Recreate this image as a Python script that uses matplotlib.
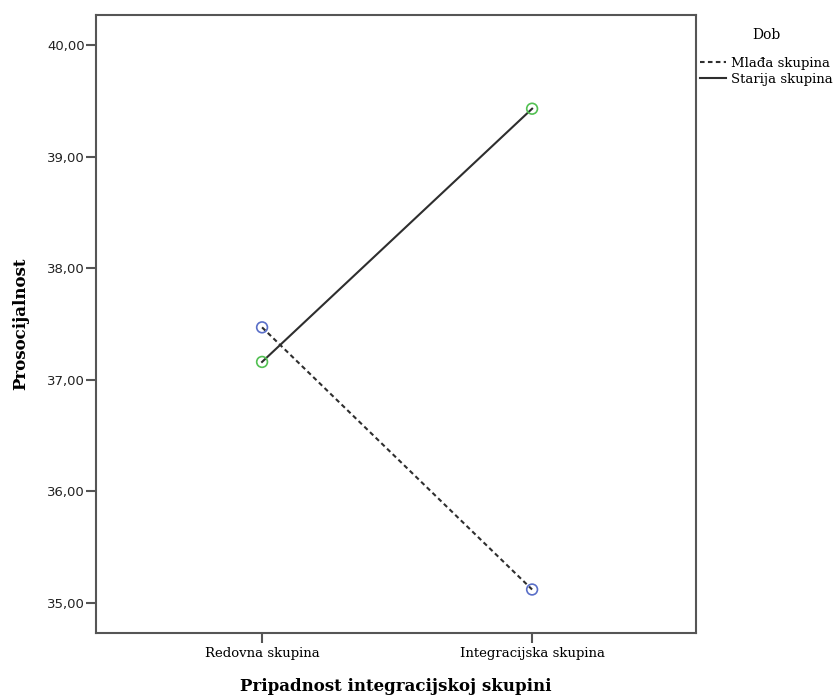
import numpy as np
import matplotlib
matplotlib.use("Agg")
import matplotlib.pyplot as plt
from matplotlib.lines import Line2D

# data
groups = ["Redovna skupina", "Integracijska skupina"]
mlada = [37.47, 35.12]
starija = [37.16, 39.43]
yticks = [35, 36, 37, 38, 39, 40]

serif = "DejaVu Serif"
W, H = 835, 697
dash = (0, (2.2, 1.6))

fig = plt.figure(figsize=(W / 100, H / 100), dpi=100)
# axes box: x 96..696, y 15..633 px
ax = fig.add_axes([96 / W, (H - 633) / H, 600 / W, 618 / H])

x = np.arange(len(groups))
ax.plot(x, mlada, color="#2e2e2e", lw=1.5, ls=dash, zorder=2)
ax.plot(x, starija, color="#2e2e2e", lw=1.5, ls="-", zorder=2)
ax.scatter(x, mlada, s=60, facecolors="none", edgecolors="#5a6fc8", linewidths=1.2, zorder=3)
ax.scatter(x, starija, s=60, facecolors="none", edgecolors="#52c052", linewidths=1.2, zorder=3)

ax.set_xlim(-0.615, 1.607)
ax.set_ylim(34.73, 40.27)
ax.set_xticks(x)
ax.set_xticklabels(groups, fontfamily=serif, fontsize=9.5)
ax.set_yticks(yticks)
ax.set_yticklabels([("%.2f" % v).replace(".", ",") for v in yticks], fontsize=9.5, color="#222222")

for s in ax.spines.values():
    s.set_color("#555555")
    s.set_linewidth(1.5)
ax.tick_params(direction="out", length=7, width=1.5, color="#555555")
ax.tick_params(axis="y", pad=1)
ax.tick_params(axis="x", pad=3)

ax.set_xlabel("Pripadnost integracijskoj skupini", fontfamily=serif, fontweight="bold",
              fontsize=12, labelpad=13)
ax.set_ylabel("Prosocijalnost", fontfamily=serif, fontweight="bold", fontsize=12, labelpad=13)

# legend, outside the box on the right
fig.text(766 / W, 1 - 35 / H, "Dob", fontfamily=serif, fontsize=10, ha="center", va="center")
handles = [Line2D([], [], color="#2e2e2e", lw=1.5, ls=dash),
           Line2D([], [], color="#2e2e2e", lw=1.5, ls="-")]
fig.legend(handles, ["Mlađa skupina", "Starija skupina"],
           loc="upper left", bbox_to_anchor=(700 / W, 1 - 57 / H), frameon=False,
           prop={"family": serif, "size": 9.5}, handlelength=2.0, handletextpad=0.35,
           labelspacing=0.2, borderpad=0.0, borderaxespad=0.0)

fig.savefig("out.png", dpi=100)
